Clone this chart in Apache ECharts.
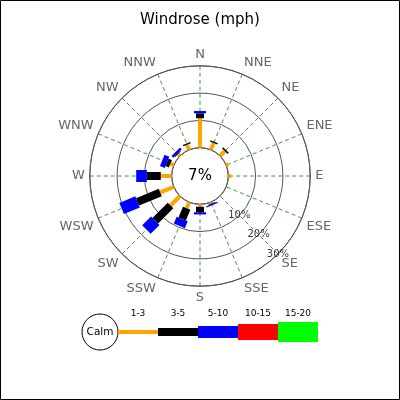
<!DOCTYPE html>
<html><head><meta charset="utf-8">
<script src="https://cdn.jsdelivr.net/npm/echarts@6/dist/echarts.min.js"></script>
<style>html,body{margin:0;padding:0;background:#fff}#c{width:400px;height:400px}</style>
</head><body><div id="c"></div>
<script>
// ---- data ----
const directions = ['N','NNE','NE','ENE','E','ESE','SE','SSE','S','SSW','SW','WSW','W','WNW','NW','NNW'];
const speedClasses = ['1-3','3-5','5-10','10-15','15-20'];
const calmPercent = 7;
const ringTicks = [10, 20, 30];
const ringLabelDirection = 'SE';
const s1to3   = [10.8, 2.7, 2.5, 1.0, 1.1, 0, 0, 0.5, 0.9, 2.4, 4.9, 5.4, 4.0, 1.4, 1.0, 2.0];
const s3to5   = [1.8, 0.5, 0.6, 0, 0, 0, 0, 0.3, 2.0, 4.3, 7.9, 9.0, 5.1, 1.3, 0.3, 0.5];
const s5to10  = [0.85, 0, 0, 0, 0, 0, 0, 0.4, 0.8, 2.7, 4.6, 6.3, 3.9, 1.9, 0.9, 0];
const s10to15 = [0, 0, 0, 0, 0, 0, 0, 0, 0, 0, 0, 0, 0, 0, 0, 0];
const s15to20 = [0, 0, 0, 0, 0, 0, 0, 0, 0, 0, 0, 0, 0, 0, 0, 0];

// ---- styles ----
const classColors = ['#FFA500', '#000000', '#0000FF', '#FF0000', '#00FF00'];
const classWidths = [4, 8, 12, 16, 20];
const FONT = 'DejaVu Sans';

const classes = [s1to3, s3to5, s5to10, s10to15, s15to20];
const cum = directions.map(() => 0);
const barSeries = classes.map((vals, k) => {
  const data = vals.map((v, i) => { const a = cum[i]; cum[i] += v; return [i, a, cum[i]]; });
  return {
    type: 'custom', name: speedClasses[k], coordinateSystem: 'polar',
    encode: { angle: 0, radius: [1, 2] }, data, silent: true, z: 5,
    renderItem: (params, api) => {
      const r0 = api.value(1), r1 = api.value(2);
      if (!(r1 > r0)) return null;
      const a = api.value(0);
      const p0 = api.coord([r0, a]), p1 = api.coord([r1, a]);
      return { type: 'line', shape: { x1: p0[0], y1: p0[1], x2: p1[0], y2: p1[1] },
        style: { stroke: classColors[k], lineWidth: classWidths[k], lineCap: 'butt' } };
    }
  };
});

const seIdx = directions.indexOf(ringLabelDirection);
const ringLabelSeries = {
  type: 'scatter', coordinateSystem: 'polar', symbolSize: 0, silent: true, z: 10,
  data: ringTicks.map(t => [t, seIdx]),
  label: { show: true, position: 'inside', formatter: p => p.value[0] + '%',
    color: '#000', fontSize: 10, fontFamily: FONT }
};

// legend graphics
const cx = 200, cy = 176;
const legY = 332, legX0 = 118, segW = 40;
const graphics = [
  { type: 'rect', shape: { x: 0.5, y: 0.5, width: 399, height: 399 }, style: { fill: null, stroke: '#000', lineWidth: 1 }, silent: true },
  { type: 'text', x: cx, y: cy, style: { text: calmPercent + '%', align: 'center', verticalAlign: 'middle', fontSize: 15, fontFamily: FONT, fill: '#000' }, z: 20 },
  { type: 'circle', shape: { cx: 100, cy: legY, r: 18 }, style: { fill: '#fff', stroke: '#000', lineWidth: 1 } },
  { type: 'text', x: 100, y: legY, style: { text: 'Calm', align: 'center', verticalAlign: 'middle', fontSize: 10.5, fontFamily: FONT, fill: '#000' } }
];
speedClasses.forEach((lab, k) => {
  graphics.push({ type: 'rect', shape: { x: legX0 + k * segW, y: legY - classWidths[k] / 2, width: segW, height: classWidths[k] }, style: { fill: classColors[k] } });
  graphics.push({ type: 'text', x: legX0 + k * segW + segW / 2, y: 314, style: { text: lab, align: 'center', verticalAlign: 'middle', fontSize: 9, fontFamily: FONT, fill: '#000' } });
});

const chart = echarts.init(document.getElementById('c'), null, { renderer: 'canvas' });
chart.setOption({
  animation: false,
  backgroundColor: '#fff',
  title: { text: 'Windrose (mph)', left: 'center', top: 8,
    textStyle: { fontSize: 15, fontWeight: 'normal', color: '#000', fontFamily: FONT } },
  polar: { center: [cx, cy], radius: [28.3, 110.2] },
  angleAxis: {
    type: 'category', data: directions, startAngle: 90 + 180 / directions.length, clockwise: true,
    boundaryGap: true,
    axisLine: { show: true, lineStyle: { color: '#555', width: 1 } },
    axisTick: { show: false, alignWithLabel: true },
    axisLabel: { show: true, margin: 5, color: '#666', fontSize: 13, fontFamily: FONT },
    splitLine: { show: true, lineStyle: { color: '#3a9a3a', width: 1, type: [4, 3] } }
  },
  radiusAxis: {
    type: 'value', min: 0, max: 30, interval: 10,
    axisLine: { show: false }, axisTick: { show: false }, axisLabel: { show: false },
    splitLine: { show: true, lineStyle: { color: '#555', width: 1 } }
  },
  series: [...barSeries, ringLabelSeries],
  graphic: graphics
});
</script></body></html>
